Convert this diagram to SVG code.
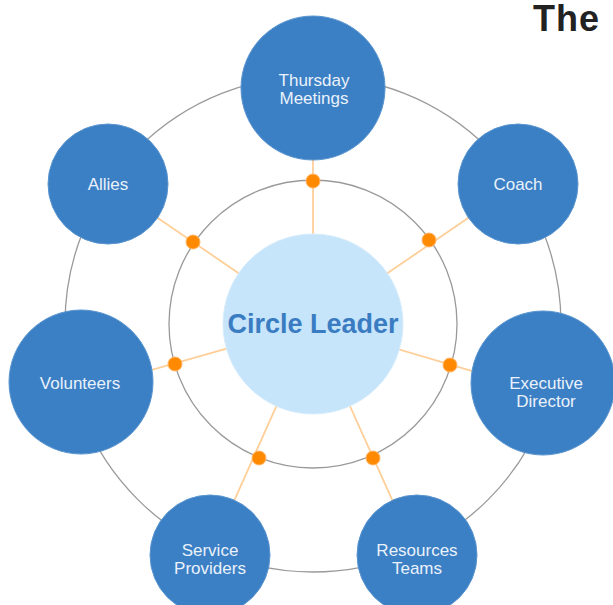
<svg xmlns="http://www.w3.org/2000/svg" width="613" height="605" viewBox="0 0 613 605">
<style>
.ring{fill:none;stroke:#9a9a9a;stroke-width:1.3}
.spoke{stroke:#FFCF99;stroke-width:1.8}
.dot{fill:#FF8A00;stroke:#FFB566;stroke-width:1}
.node{fill:#3B7FC4;stroke:#5A95D0;stroke-width:1}
.lbl{font-family:"Liberation Sans",Arial,sans-serif;font-size:17px;fill:#EAF2FB;text-anchor:middle}
</style>
<rect width="613" height="605" fill="#ffffff"/>
<text x="533" y="31" font-family="Liberation Sans,Arial,sans-serif" font-weight="bold" font-size="36" letter-spacing="1" fill="#222">The</text>
<g id="rings">
<circle class="ring" cx="313" cy="324" r="248"/>
<circle class="ring" cx="313" cy="324" r="144"/>
</g>
<g id="connectors">
<line class="spoke" x1="313" y1="324" x2="313" y2="88"/>
<line class="spoke" x1="313" y1="324" x2="108" y2="184"/>
<line class="spoke" x1="313" y1="324" x2="518" y2="184"/>
<line class="spoke" x1="313" y1="324" x2="81" y2="390"/>
<line class="spoke" x1="313" y1="324" x2="543" y2="392"/>
<line class="spoke" x1="313" y1="324" x2="210" y2="555"/>
<line class="spoke" x1="313" y1="324" x2="417" y2="555"/>
<circle class="dot" cx="313" cy="181" r="7"/>
<circle class="dot" cx="193" cy="242" r="7"/>
<circle class="dot" cx="429" cy="240" r="7"/>
<circle class="dot" cx="175" cy="364" r="7"/>
<circle class="dot" cx="450" cy="365" r="7"/>
<circle class="dot" cx="259" cy="458" r="7"/>
<circle class="dot" cx="373" cy="458" r="7"/>
</g>
<g id="center">
<circle cx="313" cy="324" r="90" fill="#C6E4FA" stroke="#D8EDFC" stroke-width="1"/>
<text x="313" y="333" font-family="Liberation Sans,Arial,sans-serif" font-weight="bold" font-size="27" fill="#3A7CC2" text-anchor="middle">Circle Leader</text>
</g>
<g id="thursday">
<circle class="node" cx="313" cy="88" r="72"/>
<text class="lbl" x="314" y="86">Thursday</text>
<text class="lbl" x="314" y="104">Meetings</text>
</g>
<g id="allies">
<circle class="node" cx="108" cy="184" r="60"/>
<text class="lbl" x="108" y="190">Allies</text>
</g>
<g id="coach">
<circle class="node" cx="518" cy="184" r="60"/>
<text class="lbl" x="518" y="190">Coach</text>
</g>
<g id="volunteers">
<circle class="node" cx="81" cy="382" r="72"/>
<text class="lbl" x="80" y="389">Volunteers</text>
</g>
<g id="executive">
<circle class="node" cx="543" cy="383" r="72"/>
<text class="lbl" x="546" y="389">Executive</text>
<text class="lbl" x="546" y="407">Director</text>
</g>
<g id="service">
<circle class="node" cx="210" cy="555" r="60"/>
<text class="lbl" x="210" y="556">Service</text>
<text class="lbl" x="210" y="574">Providers</text>
</g>
<g id="resources">
<circle class="node" cx="417" cy="555" r="60"/>
<text class="lbl" x="417" y="556">Resources</text>
<text class="lbl" x="417" y="574">Teams</text>
</g>
</svg>
